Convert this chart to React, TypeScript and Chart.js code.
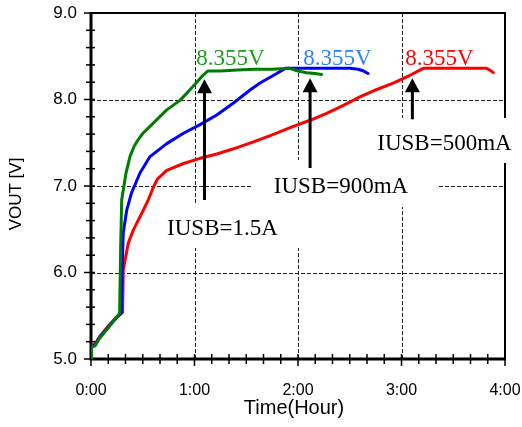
import React, { useEffect, useRef } from 'react';
import { Chart, registerables } from 'chart.js';

Chart.register(...registerables);

// ---- data (time in minutes, voltage in V) ----
const greenMinutes = [0, 0.3, 2.3, 5, 10, 15.9, 16.6, 17.2, 17.8, 20.3, 22.6, 25.0, 27.5, 30.1, 34.2, 43.9, 51.6, 59.1, 64.9, 67.8, 75, 85, 95, 105, 115, 120, 125, 130, 133.7];
const greenVolts = [5.0, 5.14, 5.15, 5.24, 5.36, 5.51, 5.53, 6.3, 6.84, 7.15, 7.34, 7.46, 7.54, 7.61, 7.69, 7.88, 7.99, 8.15, 8.28, 8.33, 8.33, 8.34, 8.35, 8.35, 8.36, 8.33, 8.31, 8.3, 8.29];

const blueMinutes = [0, 0.3, 2.3, 5, 10, 15, 17.6, 18.0, 18.7, 20.7, 23.5, 28.4, 34.2, 43.9, 53.6, 63.2, 72.9, 82.6, 92.2, 98, 107.7, 112.5, 125, 140, 150, 155, 158, 160.6];
const blueVolts = [5.0, 5.15, 5.16, 5.25, 5.37, 5.48, 5.53, 6.0, 6.46, 6.72, 6.92, 7.15, 7.34, 7.49, 7.61, 7.71, 7.82, 7.96, 8.11, 8.19, 8.3, 8.36, 8.36, 8.36, 8.36, 8.35, 8.33, 8.3];

const redMinutes = [0, 0.3, 2.3, 5, 10, 15, 18.3, 18.7, 21.6, 24.5, 30.3, 33.2, 36, 38.5, 43.9, 53.6, 63.2, 72.9, 82.6, 94.2, 105, 117.3, 127, 136.6, 146, 155.9, 165, 175.2, 184.9, 192.6, 200, 210, 220, 229.3, 231.3, 233.2];
const redVolts = [5.0, 5.16, 5.17, 5.26, 5.38, 5.49, 5.54, 6.03, 6.34, 6.49, 6.72, 6.84, 6.98, 7.08, 7.18, 7.26, 7.32, 7.37, 7.43, 7.51, 7.59, 7.69, 7.76, 7.84, 7.93, 8.03, 8.11, 8.19, 8.28, 8.36, 8.36, 8.36, 8.36, 8.36, 8.34, 8.31];

const xTickMinutes = [0, 60, 120, 180, 240];
const yTickVolts = [5, 6, 7, 8, 9];
const xGridMinutes = [60, 120, 180];
const yGridVolts = [6, 7, 8];

const seriesNames = ['IUSB=1.5A', 'IUSB=900mA', 'IUSB=500mA'];
const seriesColors = ['#007d00', '#0000ff', '#ff0000'];

// voltage labels
const vLabelText = '8.355V';
const vLabelColors = ['#1f9a1f', '#2f80ff', '#ff0000'];
const vLabelMinutes = [80.9, 142.9, 202];
const vLabelVolts = [8.399, 8.399, 8.399];

// arrows: x (min), tip V, tail V
const arrowMinutes = [65.8, 127, 186.3];
const arrowTipVolts = [8.233, 8.245, 8.245];
const arrowTailVolts = [6.838, 7.208, 7.771];

// current labels (center x in min, baseline in V)
const curLabelMinutes = [76.2, 144.9, 204.9];
const curLabelVolts = [6.434, 6.919, 7.416];
// white text-box backgrounds [x0, x1, vTop, vBottom]
const boxX0 = [42.9, 93.3, 161.7];
const boxX1 = [121.2, 201.2, 250];
const boxVTop = [6.8, 7.3, 7.786];
const boxVBottom = [6.283, 6.757, 7.266];

const SANS = "'Liberation Sans', Arial, sans-serif";
const SERIF = "'Liberation Serif', 'Times New Roman', serif";

const pts = (xs: number[], ys: number[]) => xs.map((x, i) => ({ x, y: ys[i] }));

const framePlugin = {
  id: 'frame',
  beforeDatasetsDraw(chart: any) {
    const { ctx, chartArea: a, scales } = chart;
    const x = scales.x;
    const y = scales.y;
    ctx.save();
    // dashed grid
    ctx.strokeStyle = '#222';
    ctx.lineWidth = 1;
    ctx.setLineDash([4, 2]);
    for (const t of xGridMinutes) {
      const px = Math.round(x.getPixelForValue(t)) + 0.5;
      ctx.beginPath();
      ctx.moveTo(px, a.top);
      ctx.lineTo(px, a.bottom);
      ctx.stroke();
    }
    for (const v of yGridVolts) {
      const py = Math.round(y.getPixelForValue(v)) + 0.5;
      ctx.beginPath();
      ctx.moveTo(a.left, py);
      ctx.lineTo(a.right, py);
      ctx.stroke();
    }
    ctx.setLineDash([]);
    // frame
    ctx.strokeStyle = '#000';
    ctx.lineWidth = 2;
    ctx.beginPath();
    ctx.moveTo(a.left, a.top);
    ctx.lineTo(a.right, a.top);
    ctx.lineTo(a.right, a.bottom);
    ctx.stroke();
    ctx.lineWidth = 3;
    ctx.beginPath();
    ctx.moveTo(a.left, a.top - 1);
    ctx.lineTo(a.left, a.bottom);
    ctx.lineTo(a.right + 1, a.bottom);
    ctx.stroke();
    // ticks
    ctx.lineWidth = 1.5;
    for (let v = 5; v <= 9.0001; v += 0.2) {
      const py = y.getPixelForValue(v);
      const major = Math.abs(v - Math.round(v)) < 1e-6;
      ctx.beginPath();
      ctx.moveTo(a.left - (major ? 7 : 5), py);
      ctx.lineTo(a.left + 4, py);
      ctx.stroke();
    }
    for (let t = 0; t <= 240.001; t += 10) {
      const px = x.getPixelForValue(t);
      const major = t % 60 === 0;
      ctx.beginPath();
      ctx.moveTo(px, a.bottom - 5);
      ctx.lineTo(px, a.bottom + (major ? 7 : 5));
      ctx.stroke();
    }
    // white text boxes
    ctx.fillStyle = '#fff';
    for (let i = 0; i < boxX0.length; i++) {
      const x0 = x.getPixelForValue(boxX0[i]);
      const x1 = x.getPixelForValue(boxX1[i]);
      const y0 = y.getPixelForValue(boxVTop[i]);
      const y1 = y.getPixelForValue(boxVBottom[i]);
      ctx.fillRect(x0, y0, x1 - x0, y1 - y0);
    }
    ctx.restore();
  },
  afterDatasetsDraw(chart: any) {
    const { ctx, chartArea: a, scales } = chart;
    const x = scales.x;
    const y = scales.y;
    ctx.save();
    // arrows
    ctx.strokeStyle = '#000';
    ctx.fillStyle = '#000';
    for (let i = 0; i < arrowMinutes.length; i++) {
      const px = x.getPixelForValue(arrowMinutes[i]);
      const tip = y.getPixelForValue(arrowTipVolts[i]);
      const tail = y.getPixelForValue(arrowTailVolts[i]);
      ctx.lineWidth = 3;
      ctx.beginPath();
      ctx.moveTo(px, tail);
      ctx.lineTo(px, tip + 12);
      ctx.stroke();
      ctx.beginPath();
      ctx.moveTo(px, tip);
      ctx.lineTo(px - 7.5, tip + 14);
      ctx.lineTo(px + 7.5, tip + 14);
      ctx.closePath();
      ctx.fill();
    }
    // labels
    ctx.font = `23px ${SERIF}`;
    ctx.textAlign = 'center';
    ctx.textBaseline = 'alphabetic';
    for (let i = 0; i < vLabelMinutes.length; i++) {
      ctx.fillStyle = vLabelColors[i];
      ctx.fillText(vLabelText, x.getPixelForValue(vLabelMinutes[i]), y.getPixelForValue(vLabelVolts[i]));
    }
    ctx.fillStyle = '#000';
    for (let i = 0; i < curLabelMinutes.length; i++) {
      ctx.fillText(seriesNames[i], x.getPixelForValue(curLabelMinutes[i]), y.getPixelForValue(curLabelVolts[i]));
    }
    // axis titles
    ctx.font = `20px ${SANS}`;
    ctx.textBaseline = 'middle';
    ctx.fillText('Time(Hour)', (a.left + a.right) / 2 - 4, 408);
    ctx.save();
    ctx.translate(16, (a.top + a.bottom) / 2 + 8);
    ctx.rotate(-Math.PI / 2);
    ctx.font = `17px ${SANS}`;
    ctx.fillText('VOUT [V]', 0, 0);
    ctx.restore();
    ctx.restore();
  },
};

export default function App() {
  const ref = useRef<HTMLCanvasElement>(null);
  useEffect(() => {
    if (!ref.current) return;
    const chart = new Chart(ref.current, {
      type: 'line',
      data: {
        datasets: [
          { label: seriesNames[0], data: pts(greenMinutes, greenVolts), borderColor: seriesColors[0] },
          { label: seriesNames[1], data: pts(blueMinutes, blueVolts), borderColor: seriesColors[1] },
          { label: seriesNames[2], data: pts(redMinutes, redVolts), borderColor: seriesColors[2] },
        ].map((d) => ({ ...d, borderWidth: 3, pointRadius: 0, tension: 0, fill: false, borderJoinStyle: 'round' as const, borderCapStyle: 'round' as const })),
      },
      options: {
        responsive: false,
        animation: false,
        devicePixelRatio: 1,
        layout: { padding: { top: 13, right: 17, left: 0, bottom: 0 } },
        plugins: { legend: { display: false }, tooltip: { enabled: false }, title: { display: false } },
        scales: {
          x: {
            type: 'linear',
            min: 0,
            max: 240,
            afterBuildTicks: (s: any) => { s.ticks = xTickMinutes.map((v) => ({ value: v })); },
            afterFit: (s: any) => { s.height = 68; s.paddingLeft = 0; s.paddingRight = 0; },
            ticks: {
              callback: (v: any) => `${Math.round(Number(v) / 60)}:00`,
              font: { size: 16, family: SANS },
              color: '#000',
              padding: 22,
              maxRotation: 0,
              autoSkip: false,
            },
            grid: { display: false, drawTicks: false },
            border: { display: false },
          },
          y: {
            type: 'linear',
            min: 5,
            max: 9,
            afterBuildTicks: (s: any) => { s.ticks = yTickVolts.map((v) => ({ value: v })); },
            afterFit: (s: any) => { s.width = 91; s.paddingTop = 0; s.paddingBottom = 0; },
            ticks: {
              callback: (v: any) => Number(v).toFixed(1),
              font: { size: 17, family: SANS },
              color: '#000',
              padding: 14,
              autoSkip: false,
            },
            grid: { display: false, drawTicks: false },
            border: { display: false },
          },
        },
      },
      plugins: [framePlugin],
    });
    return () => chart.destroy();
  }, []);
  return (
    <canvas ref={ref} width={522} height={427} style={{ position: 'absolute', left: 0, top: 0, background: '#fff' }} />
  );
}
